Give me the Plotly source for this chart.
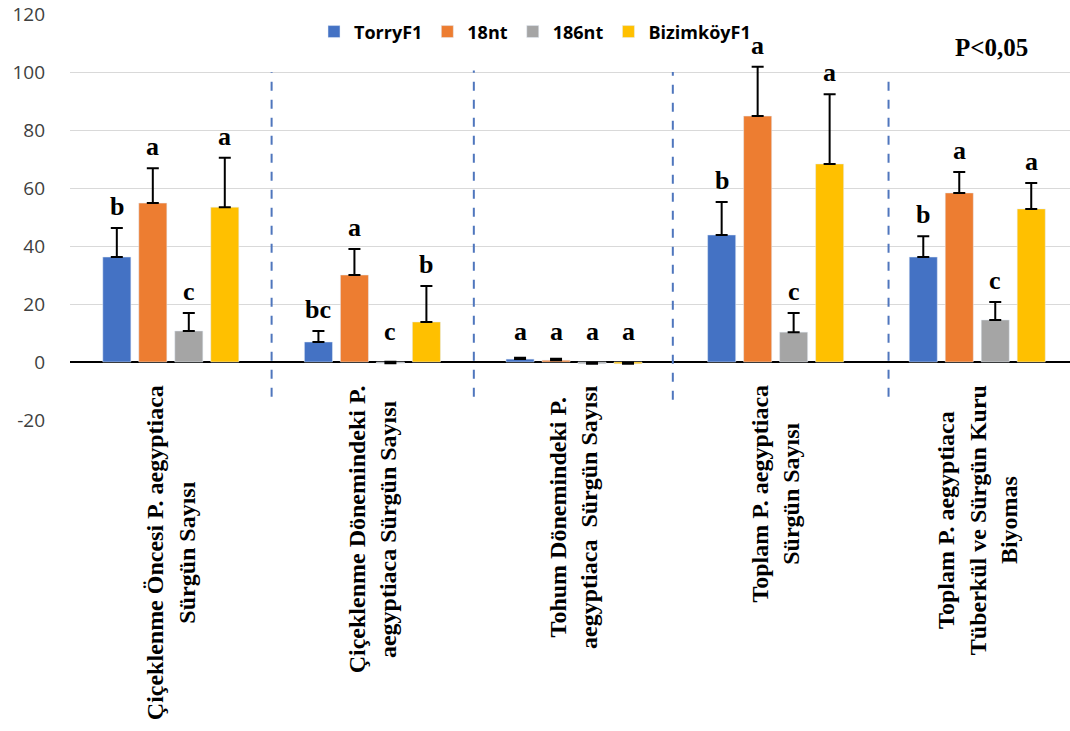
import plotly.graph_objects as go

# Category labels (drawn as rotated annotations, centred lines)
categories = [
    "Çiçeklenme Öncesi P. aegyptiaca<br>Sürgün Sayısı",
    "Çiçeklenme Dönemindeki P.<br>aegyptiaca Sürgün Sayısı",
    "Tohum Dönemindeki P.<br>aegyptiaca  Sürgün Sayısı",
    "Toplam P. aegyptiaca<br>Sürgün Sayısı",
    "Toplam P. aegyptiaca<br>Tüberkül ve Sürgün Kuru<br>Biyomas",
]

series_names = ["TorryF1", "18nt", "186nt", "BizimköyF1"]
series_colors = ["#4472C4", "#ED7D31", "#A5A5A5", "#FFC000"]

torry_vals = [36.2, 6.9, 1.0, 43.8, 36.2]
nt18_vals = [54.8, 30.0, 0.6, 84.8, 58.3]
nt186_vals = [10.7, -0.4, -0.6, 10.3, 14.5]
bizim_vals = [53.4, 13.8, -0.6, 68.3, 52.8]

torry_err = [10.0, 3.8, 0.5, 11.4, 7.2]
nt18_err = [12.0, 9.0, 0.5, 17.0, 7.2]
nt186_err = [6.2, 0.5, 0.4, 6.6, 6.2]
bizim_err = [17.0, 12.4, 0.4, 24.0, 8.9]

torry_letters = ["b", "bc", "a", "b", "b"]
nt18_letters = ["a", "a", "a", "a", "a"]
nt186_letters = ["c", "c", "a", "c", "c"]
bizim_letters = ["a", "b", "a", "a", "a"]

y_ticks = [-20, 0, 20, 40, 60, 80, 100, 120]
y_tick_labels = ["-20", "0", "20", "40", "60", "80", "100", "120"]

# Dashed group separators: x position (category units) and vertical extent
sep_x = [0.50, 1.503, 2.49, 3.56]
sep_top = [100, 100.5, 100, 97.5]
sep_bottom = [-12, -12, -13, -12]

values = [torry_vals, nt18_vals, nt186_vals, bizim_vals]
errors = [torry_err, nt18_err, nt186_err, bizim_err]
letters = [torry_letters, nt18_letters, nt186_letters, bizim_letters]

fig = go.Figure()
xs = list(range(len(categories)))
for name, color, v, e in zip(series_names, series_colors, values, errors):
    fig.add_trace(go.Bar(
        x=xs, y=v, name=f"<b>{name}</b>", marker_color=color,
        error_y=dict(type="data", array=e, arrayminus=[0] * len(e),
                     symmetric=False, color="black", thickness=2, width=6),
    ))

# Significance letters above each error bar
bar_slot = (1 - 0.286) / 4
annotations = []
for si, (v, e, l) in enumerate(zip(values, errors, letters)):
    off = (si - 1.5) * bar_slot
    for ci in range(len(categories)):
        top = max(v[ci] + e[ci], 3.0)
        annotations.append(dict(
            x=ci + off, y=top, xref="x", yref="y", text=f"<b>{l[ci]}</b>",
            showarrow=False, yanchor="bottom", yshift=5,
            font=dict(family="Liberation Serif", size=26, color="black"),
        ))

for ci, cat in enumerate(categories):
    annotations.append(dict(
        x=ci, y=-7.2, xref="x", yref="y", text=f"<b>{cat}</b>",
        showarrow=False, textangle=-90, xanchor="center", yanchor="top",
        align="center",
        font=dict(family="Liberation Serif", size=24, color="black"),
    ))

annotations.append(dict(
    x=4.07, y=108.5, xref="x", yref="y", text="<b>P<0,05</b>",
    showarrow=False, xanchor="center", yanchor="middle",
    font=dict(family="Liberation Serif", size=25, color="black"),
))

shapes = []
for sx, st, sb in zip(sep_x, sep_top, sep_bottom):
    shapes.append(dict(type="line", xref="x", yref="y", x0=sx, x1=sx,
                       y0=sb, y1=st,
                       line=dict(color="#4F76BD", width=2, dash="dash")))

fig.update_layout(
    width=1070, height=731,
    margin=dict(l=70, r=0, t=14, b=311),
    paper_bgcolor="white", plot_bgcolor="white",
    barmode="group", bargap=0.286, bargroupgap=0.22,
    showlegend=True,
    legend=dict(orientation="h", x=0.465, y=0.956, xanchor="center",
                yanchor="middle", bgcolor="rgba(0,0,0,0)",
                font=dict(family="Open Sans", size=18, color="black"),
                itemwidth=30, tracegroupgap=0),
    annotations=annotations,
    shapes=shapes,
    xaxis=dict(range=[-0.5, 4.46], showticklabels=False, showgrid=False,
               zeroline=False, showline=False, ticks=""),
    yaxis=dict(range=[-20, 120], tickvals=y_ticks, ticktext=y_tick_labels,
               showgrid=True, gridcolor="#D9D9D9",
               gridwidth=1, zeroline=True, zerolinecolor="black",
               zerolinewidth=1.5, showline=False, ticks="",
               ticklabelstandoff=24,
               tickfont=dict(family="Open Sans", size=19, color="#404040")),
    font=dict(family="Open Sans"),
)

fig.write_html("out.html")
